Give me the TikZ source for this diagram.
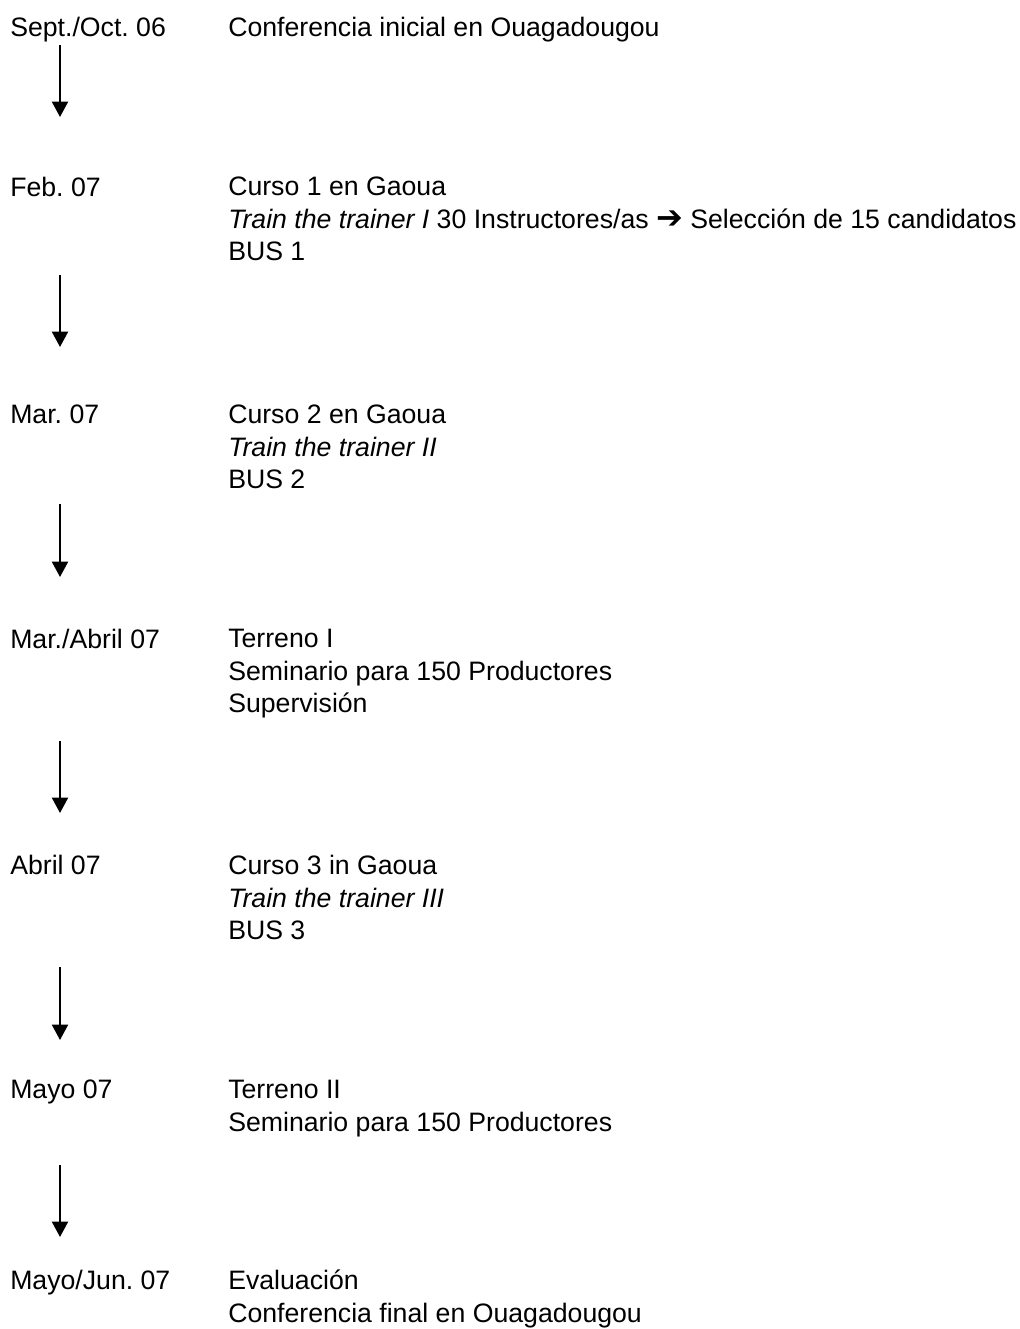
\documentclass[tikz,border=0pt]{standalone}
\usepackage{fontspec}
\setmainfont{Liberation Sans}
\newfontfamily\flechafont{DejaVu Sans}
\usepackage{tikz}
\usetikzlibrary{arrows.meta}
\frenchspacing

\begin{document}
\begin{tikzpicture}[x=0.75pt,y=-0.75pt,
  every node/.style={inner sep=0pt,anchor=north west,align=left,
    font=\fontsize{20}{24.4}\selectfont},
  flecha/.style={line width=1.5pt,-{Triangle[width=12pt,length=11.5pt]}}]
  \useasboundingbox (0,0) rectangle (1020,1329);
  % 左列：日期
  \node (f1) at (10,17) {Sept./Oct. 06};
  \node (f2) at (10,177) {Feb. 07};
  \node (f3) at (10,405) {Mar. 07};
  \node (f4) at (10,629) {Mar./Abril 07};
  \node (f5) at (10,855) {Abril 07};
  \node (f6) at (10,1080) {Mayo 07};
  \node (f7) at (10,1270) {Mayo/Jun. 07};
  % 右列：内容
  \node (t1) at (228,17) {Conferencia inicial en Ouagadougou};
  \node (t2) at (228,177) {Curso 1 en Gaoua\\
    \textit{Train the trainer I} 30 Instructores/as {\flechafont\bfseries\fontsize{24}{24}\selectfont ➔} Selección de 15 candidatos\\
    BUS 1};
  \node (t3) at (228,405) {Curso 2 en Gaoua\\ \textit{Train the trainer II}\\ BUS 2};
  \node (t4) at (228,629) {Terreno I\\ Seminario para 150 Productores\\ Supervisión};
  \node (t5) at (228,855) {Curso 3 in Gaoua\\ \textit{Train the trainer III}\\ BUS 3};
  \node (t6) at (228,1080) {Terreno II\\ Seminario para 150 Productores};
  \node (t7) at (228,1270) {Evaluación\\ Conferencia final en Ouagadougou};
  % 箭头的起点和终点
  \coordinate (s1) at (60,45);   \coordinate (e1) at (60,117);
  \coordinate (s2) at (60,275);  \coordinate (e2) at (60,347);
  \coordinate (s3) at (60,504);  \coordinate (e3) at (60,577);
  \coordinate (s4) at (60,741);  \coordinate (e4) at (60,813);
  \coordinate (s5) at (60,967);  \coordinate (e5) at (60,1040);
  \coordinate (s6) at (60,1165); \coordinate (e6) at (60,1237);
  \draw[flecha] (s1) -- (e1);
  \draw[flecha] (s2) -- (e2);
  \draw[flecha] (s3) -- (e3);
  \draw[flecha] (s4) -- (e4);
  \draw[flecha] (s5) -- (e5);
  \draw[flecha] (s6) -- (e6);
\end{tikzpicture}
\end{document}
